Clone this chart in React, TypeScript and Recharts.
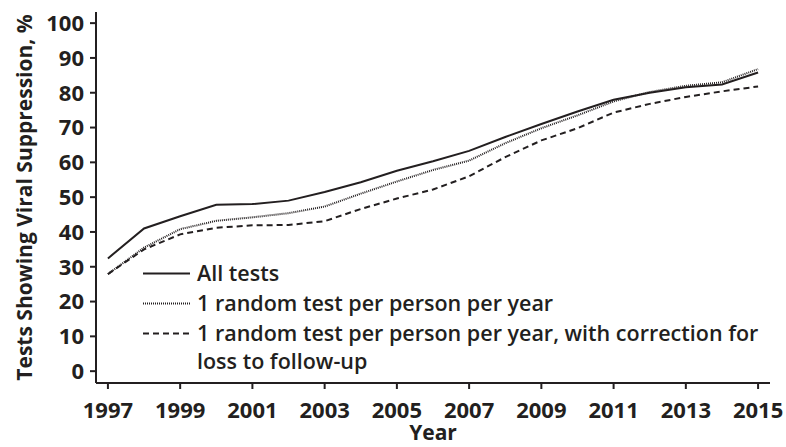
import React from "react";
import { Legend, Line, LineChart, XAxis, YAxis } from "recharts";

const years = [
  1997, 1998, 1999, 2000, 2001, 2002, 2003, 2004, 2005, 2006, 2007, 2008, 2009,
  2010, 2011, 2012, 2013, 2014, 2015,
];
const allTests = [
  32.4, 41.0, 44.5, 47.8, 48.0, 49.0, 51.5, 54.3, 57.6, 60.3, 63.3, 67.3, 71.0,
  74.6, 78.0, 80.0, 81.6, 82.4, 85.8,
];
const randomTest = [
  27.9, 35.5, 40.8, 43.2, 44.2, 45.4, 47.3, 51.0, 54.5, 57.8, 60.5, 65.5, 69.8,
  73.5, 77.5, 80.2, 82.0, 83.0, 86.8,
];
const randomCorrected = [
  27.9, 35.0, 39.3, 41.2, 41.9, 42.0, 43.1, 46.6, 49.6, 52.2, 56.0, 61.5, 66.3,
  69.8, 74.3, 76.8, 78.8, 80.4, 81.8,
];
const xTicks = [1997, 1999, 2001, 2003, 2005, 2007, 2009, 2011, 2013, 2015];
const yTicks = [0, 10, 20, 30, 40, 50, 60, 70, 80, 90, 100];

const data = years.map((year, i) => ({
  year,
  all: allTests[i],
  random: randomTest[i],
  corrected: randomCorrected[i],
}));

const ink = "#231f20";
const font = "'Open Sans', sans-serif";

const series = [
  { key: "all", label: ["All tests"], dash: undefined, width: 2 },
  {
    key: "random",
    label: ["1 random test per person per year"],
    dash: "1 1",
    width: 2,
  },
  {
    key: "corrected",
    label: [
      "1 random test per person per year, with correction for",
      "loss to follow-up",
    ],
    dash: "6 4",
    width: 2,
  },
];

function LegendBox() {
  return (
    <div style={{ fontFamily: font, fontWeight: 600, fontSize: 21.5, color: ink }}>
      {series.map((s) => (
        <div
          key={s.key}
          style={{ display: "flex", alignItems: "flex-start", marginBottom: 2 }}
        >
          <svg width={54} height={28} style={{ flex: "none" }}>
            <line
              x1={0}
              x2={47}
              y1={14.5}
              y2={14.5}
              stroke={ink}
              strokeWidth={s.width}
              strokeDasharray={s.dash}
            />
          </svg>
          <div style={{ lineHeight: "28px", whiteSpace: "nowrap" }}>
            {s.label.map((t) => (
              <div key={t}>{t}</div>
            ))}
          </div>
        </div>
      ))}
    </div>
  );
}

export default function App() {
  return (
    <div style={{ position: "absolute", left: 0, top: 0, background: "#fff" }}>
      <LineChart
        width={786}
        height={447}
        data={data}
        margin={{ top: 12, right: 16, left: 0, bottom: 0 }}
      >
        <XAxis
          dataKey="year"
          type="number"
          domain={[1996.67, 2015.33]}
          ticks={xTicks}
          height={64}
          stroke={ink}
          strokeWidth={2}
          tickSize={6}
          tickMargin={13}
          tick={{ fill: ink, fontSize: 22, fontWeight: 700, fontFamily: font }}
          label={{
            value: "Year",
            position: "insideBottom",
            offset: 7,
            fill: ink,
            fontSize: 21,
            fontWeight: 700,
            fontFamily: font,
          }}
        />
        <YAxis
          type="number"
          domain={[-3.4, 103.2]}
          ticks={yTicks}
          width={96}
          stroke={ink}
          strokeWidth={2}
          tickSize={6}
          tickMargin={6}
          tick={{ fill: ink, fontSize: 22, fontWeight: 700, fontFamily: font }}
          label={{
            value: "Tests Showing Viral Suppression, %",
            angle: -90,
            position: "insideLeft",
            offset: 25,
            fill: ink,
            fontSize: 21,
            fontWeight: 700,
            fontFamily: font,
            style: { textAnchor: "middle" },
          }}
        />
        <Legend
          layout="vertical"
          align="center"
          verticalAlign="middle"
          wrapperStyle={{ left: 143, top: 259, width: 640 }}
          content={() => <LegendBox />}
        />
        {series.map((s) => (
          <Line
            key={s.key}
            dataKey={s.key}
            type="linear"
            stroke={ink}
            strokeWidth={s.width}
            strokeDasharray={s.dash}
            dot={false}
            activeDot={false}
            isAnimationActive={false}
          />
        ))}
      </LineChart>
    </div>
  );
}
